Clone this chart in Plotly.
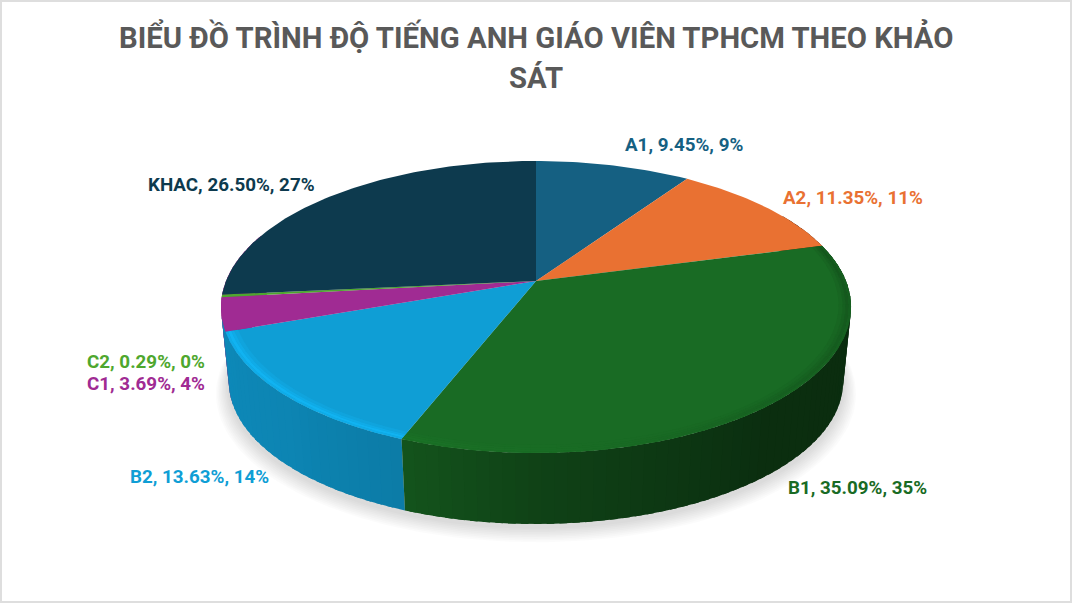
import numpy as np
import plotly.graph_objects as go

labels = ["A1", "A2", "B1", "B2", "C1", "C2", "KHAC"]
percents = [9.45, 11.35, 35.09, 13.63, 3.69, 0.29, 26.50]
rounded = [9, 11, 35, 14, 4, 0, 27]
title_lines = ["BIỂU ĐỒ TRÌNH ĐỘ TIẾNG ANH GIÁO VIÊN TPHCM THEO KHẢO", "SÁT"]

colors = ["#156082", "#E97132", "#196B24", "#0F9ED5", "#A02B93", "#4EA72E", "#0D3A4E"]
label_x = [684, 853, 857, 199, 146, 146, 231]
label_y = [145, 198, 488, 477, 384, 362, 185]

FONT = "Roboto"
W, H = 1072, 603

# the pie is a tilted circle seen in perspective, in pixel coords
CX, CY = 536, 281
RX, RY, PERSP = 310, 141.4, 0.178
WALL_Y, WALL_SCALE = 356.3, 0.975


def project(theta, r=1.0, cy=CY, scale=1.0):
    t = np.radians(theta)
    w = 1 / (1 + PERSP * r * np.cos(t))
    return CX + scale * RX * r * np.sin(t) * w, cy - scale * RY * r * np.cos(t) * w


def shade(hex_color, f):
    rgb = np.array([int(hex_color[i:i + 2], 16) for i in (1, 3, 5)], dtype=float)
    rgb = np.clip(rgb * f, 0, 255)
    return "rgb(%d,%d,%d)" % tuple(rgb.round())


def poly(xs, ys, color):
    return go.Scatter(x=xs, y=ys, mode="lines", fill="toself", fillcolor=color,
                      line=dict(width=0), hoverinfo="skip", showlegend=False)


def wall_factor(theta):
    return np.interp(theta, [60, 140, 180, 201, 225, 290], [0.40, 0.43, 0.62, 0.78, 0.84, 0.90])


def rim_factor(theta, name):
    if name == "B2":
        return 1.13
    return np.interp(theta, [75, 130, 170, 202], [0.80, 0.88, 1.0, 1.06])


fig = go.Figure()

# soft shadow under the pie
th = np.linspace(0, 360, 181)
for k in range(9):
    sx, sy = project(th, cy=WALL_Y + 4 + k * 0.9, scale=WALL_SCALE + 0.005 + k * 0.0045)
    fig.add_trace(go.Scatter(x=sx, y=sy, mode="lines", fill="toself", fillcolor="rgba(0,0,0,0.016)",
                             line=dict(width=0), hoverinfo="skip", showlegend=False))

edges = np.concatenate([[0], np.cumsum(percents)]) * 3.6

# side wall, narrow strips so the shading changes along it
# C1 only shows as a sliver left of B2, C2 and KHAC sit behind the top face
for i in [4, 3, 2, 1, 0]:
    color = colors[i]
    start = max(edges[i], 60)
    stop = edges[i + 1]
    if labels[i] == "C1":
        stop = 290
    if labels[i] == "B2":
        stop += 6
    if stop <= start:
        continue
    n = max(int((stop - start) / 2), 1)
    steps = np.linspace(start, stop, n + 1)
    for a, b in zip(steps[:-1], steps[1:]):
        t = np.linspace(a, min(b + 1.2, stop), 5)
        x1, y1 = project(t)
        x2, y2 = project(t, cy=WALL_Y, scale=WALL_SCALE)
        fig.add_trace(poly(np.r_[x1, x2[::-1]], np.r_[y1, y2[::-1]], shade(color, wall_factor((a + b) / 2))))

# top face
for i, color in enumerate(colors):
    t = np.linspace(edges[i], edges[i + 1], max(int(percents[i] * 3.6), 2) + 1)
    x, y = project(t)
    fig.add_trace(poly(np.r_[CX, x, CX], np.r_[CY, y, CY], color))

# bevel along the front rim, soft falloff on both sides
for i, name in enumerate(labels):
    if name not in ("B1", "B2"):
        continue
    start, stop = max(edges[i], 75), edges[i + 1]
    n = max(int((stop - start) / 4), 1)
    steps = np.linspace(start, stop, n + 1)
    for a, b in zip(steps[:-1], steps[1:]):
        f = rim_factor((a + b) / 2, name)
        t = np.linspace(a, min(b + 1.2, stop), 7)
        for r0, r1, mix in [(0.962, 0.974, 0.3), (0.974, 0.983, 0.65), (0.983, 0.993, 1.0), (0.993, 1.0, 0.7)]:
            x1, y1 = project(t, r=r0)
            x2, y2 = project(t, r=r1)
            fig.add_trace(poly(np.r_[x1, x2[::-1]], np.r_[y1, y2[::-1]],
                               shade(colors[i], 1 + (f - 1) * mix)))

annotations = []
for line, y, in zip(title_lines, [37, 78]):
    annotations.append(dict(x=536, y=y, xref="x", yref="y", text=f"<b>{line}</b>", showarrow=False,
                            font=dict(family=FONT, size=29.3, color="#595959")))
for i, name in enumerate(labels):
    annotations.append(dict(x=label_x[i], y=label_y[i], xref="x", yref="y",
                            text=f"<b>{name}, {percents[i]:.2f}%, {rounded[i]}%</b>", showarrow=False,
                            font=dict(family=FONT, size=18.8, color=colors[i])))

fig.update_layout(
    width=W, height=H, margin=dict(l=0, r=0, t=0, b=0),
    paper_bgcolor="white", plot_bgcolor="white", showlegend=False,
    xaxis=dict(range=[0, W], visible=False, fixedrange=True),
    yaxis=dict(range=[H, 0], visible=False, fixedrange=True),
    annotations=annotations,
    shapes=[dict(type="rect", xref="paper", yref="paper", x0=0, y0=0, x1=1, y1=1,
                 line=dict(color="#DEDEDE", width=4))],
)

# page margin would push the figure 8px off
fig.write_html("out.html", config={"displayModeBar": False},
               post_script="document.body.style.margin='0';")
